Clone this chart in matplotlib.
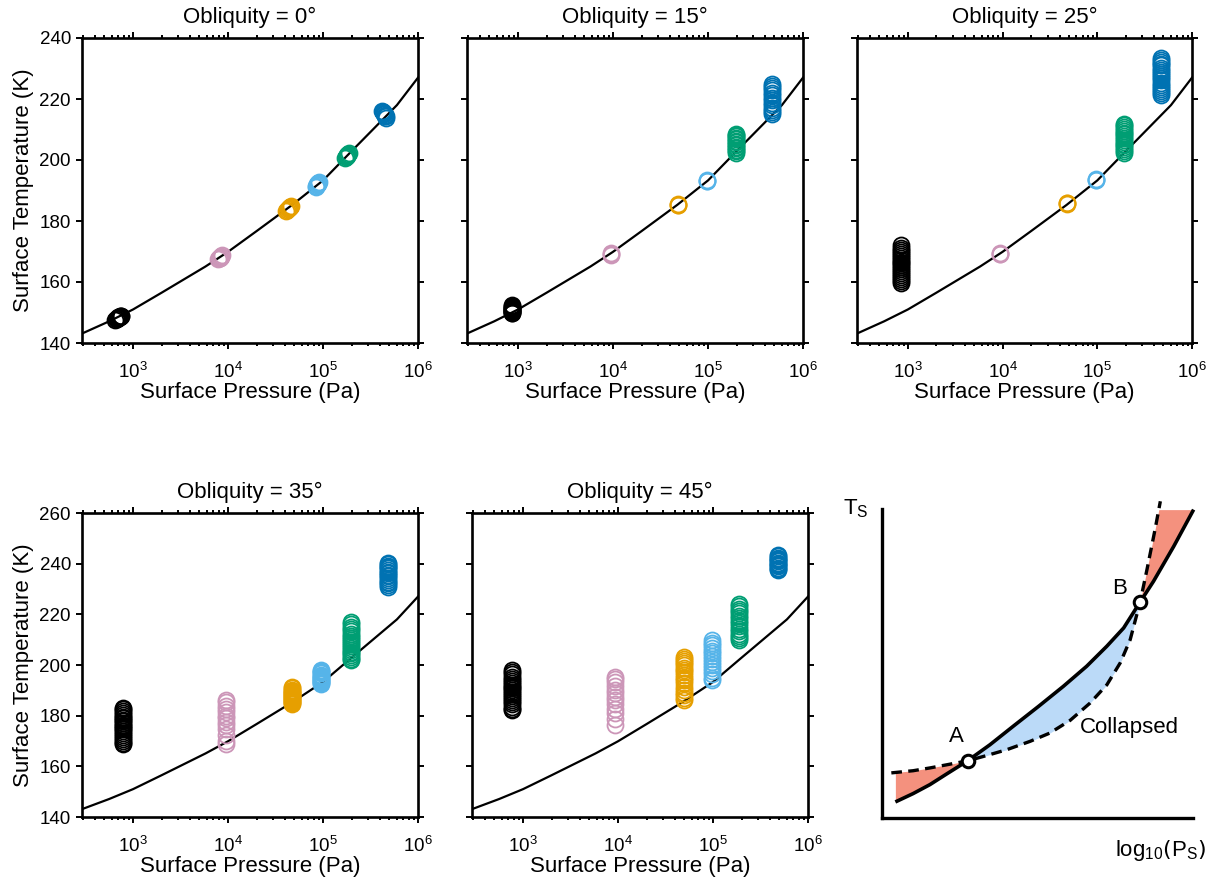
import numpy as np
import matplotlib
matplotlib.use('Agg')
import matplotlib.pyplot as plt

plt.rcParams['font.family'] = ['Liberation Sans', 'DejaVu Sans']
plt.rcParams['mathtext.default'] = 'regular'

# reference curve (surface pressure in Pa, surface temperature in K)
curve_p = [290, 560, 1000, 2000, 5800, 10000, 20000, 47500, 100000, 190000, 600000, 1000000]
curve_t = [143.1, 147.1, 151.0, 156.5, 165.1, 169.9, 176.7, 185.3, 193.3, 202.2, 218.0, 227.0]

colors = ['#000000', '#CC96B8', '#E69F00', '#56B4E9', '#009E73', '#0072B2']
obliquities = [0, 15, 25, 35, 45]

# obliquity 0: clusters spread a little in both P and T
obl0_p = [
    [650, 665, 680, 695, 710, 725, 740, 755, 700, 690, 720],
    [7900, 8050, 8200, 8350, 8500, 8650, 8300, 8150],
    [41000, 42000, 43000, 44000, 45000, 46000, 43500, 44500],
    [83500, 85000, 86500, 88000, 89500, 91000, 87000, 88500],
    [171000, 174000, 177000, 180000, 183000, 186000, 178000, 181000],
    [415000, 425000, 435000, 445000, 455000, 465000, 440000, 450000, 430000],
]
obl0_t = [
    [147.7, 147.9, 148.0, 148.2, 148.4, 148.6, 148.8, 149.0, 148.5, 148.1, 148.9],
    [167.6, 167.8, 168.0, 168.2, 168.5, 168.7, 168.3, 167.9],
    [183.4, 183.7, 184.0, 184.3, 184.7, 185.0, 184.2, 184.5],
    [191.3, 191.6, 191.9, 192.2, 192.5, 192.8, 192.0, 192.4],
    [200.5, 200.9, 201.3, 201.7, 202.1, 202.4, 201.2, 201.6],
    [216.0, 215.6, 215.2, 214.8, 214.3, 213.9, 215.4, 214.5, 215.8],
]

# obliquity 15
obl15_p = [870, 9600, 48700, 98600, 195000, 476000]
obl15_t = [
    [149.8, 150.0, 150.2, 150.4, 150.6, 150.8, 151.0, 151.3, 151.6, 151.9, 152.2, 152.5],
    [169.0, 169.2, 169.4],
    [185.1, 185.3, 185.5],
    [193.0, 193.2, 193.4],
    [202.4, 202.8, 203.3, 203.8, 204.3, 204.8, 205.3, 205.8, 206.3, 206.8, 207.3, 207.8, 208.1, 208.4],
    [215.0, 215.7, 216.4, 217.2, 218.0, 218.8, 219.6, 220.4, 221.2, 222.0, 222.8, 223.5, 224.2, 224.9],
]

# obliquity 25
obl25_p = [850, 9300, 47500, 96000, 190000, 475000]
obl25_t = [
    [159.8, 160.4, 161.0, 161.7, 162.3, 163.0, 163.6, 164.3, 164.9, 165.5, 166.1, 166.7, 167.3,
     167.9, 168.5, 169.1, 169.8, 170.5, 171.3, 172.1],
    [169.1, 169.3, 169.5],
    [185.6, 185.8, 186.0],
    [193.4, 193.6, 193.8],
    [202.3, 202.9, 203.5, 204.2, 204.8, 205.4, 206.0, 206.6, 207.2, 207.8, 208.4, 209.0, 209.6,
     210.2, 210.8, 211.4, 211.9],
    [221.2, 221.9, 222.6, 223.3, 224.0, 224.7, 225.4, 226.1, 226.8, 227.5, 228.2, 228.9, 229.6,
     230.3, 231.0, 231.6, 232.2, 232.8, 233.3],
]

# obliquity 35
obl35_p = [780, 9450, 47400, 95000, 195000, 485000]
obl35_t = [
    [168.7, 169.3, 170.0, 170.8, 171.6, 172.4, 173.2, 174.0, 174.7, 175.3, 175.9, 176.5, 177.1,
     177.7, 178.3, 178.9, 179.6, 180.3, 181.0, 181.8, 182.6, 183.2],
    [168.9, 170.1, 172.5, 174.8, 176.2, 177.6, 178.9, 180.0, 181.3, 182.6, 184.0, 185.2, 186.0],
    [184.7, 185.1, 185.5, 185.9, 186.3, 186.7, 187.1, 187.5, 187.9, 188.3, 188.7, 189.1, 189.5,
     189.9, 190.3, 190.8, 191.3],
    [192.6, 193.0, 193.4, 193.8, 194.2, 194.6, 195.0, 195.4, 195.8, 196.2, 196.7, 197.2, 197.7, 198.2],
    [201.8, 202.5, 203.2, 203.9, 204.6, 205.3, 206.0, 206.8, 207.6, 208.4, 209.2, 210.0, 210.8,
     211.6, 212.4, 213.3, 214.2, 215.1, 216.1, 217.0],
    [230.8, 231.5, 232.2, 232.9, 233.6, 234.3, 235.0, 235.7, 236.3, 236.9, 237.5, 238.1, 238.7,
     239.2, 239.7, 240.2],
]

# obliquity 45
obl45_p = [765, 9400, 49000, 98500, 190000, 487000]
obl45_t = [
    [182.1, 182.8, 183.6, 184.5, 185.4, 186.3, 187.1, 187.9, 188.7, 189.4, 190.1, 190.8, 191.5,
     192.2, 192.9, 193.7, 194.5, 195.4, 196.3, 197.1, 197.9],
    [176.2, 178.5, 180.9, 182.8, 184.5, 186.0, 187.4, 188.8, 190.2, 191.7, 193.2, 194.4, 195.3],
    [186.1, 187.0, 188.0, 189.1, 190.3, 191.5, 192.7, 193.9, 195.0, 196.1, 197.1, 198.1, 199.0,
     199.9, 200.8, 201.6, 202.4, 203.2],
    [193.9, 195.0, 196.3, 197.6, 198.9, 200.1, 201.3, 202.4, 203.5, 204.6, 205.7, 206.7, 207.7,
     208.7, 209.7],
    [209.7, 210.5, 211.4, 212.4, 213.4, 214.4, 215.4, 216.4, 217.4, 218.4, 219.4, 220.4, 221.4,
     222.3, 223.3, 224.2],
    [237.4, 237.9, 238.4, 238.9, 239.4, 239.9, 240.4, 240.9, 241.4, 241.9, 242.4, 242.9, 243.3],
]

# schematic curves (normalised axes units)
solid_x = [0.043, 0.100, 0.154, 0.207, 0.275, 0.347, 0.422, 0.503, 0.583, 0.658, 0.723, 0.777, 0.830, 0.873, 0.938, 1.002]
solid_y = [0.052, 0.079, 0.108, 0.142, 0.185, 0.237, 0.297, 0.361, 0.426, 0.491, 0.556, 0.615, 0.699, 0.766, 0.879, 0.998]
dash_x = [0.030, 0.100, 0.154, 0.207, 0.275, 0.336, 0.401, 0.476, 0.540, 0.605, 0.669, 0.723, 0.766, 0.798, 0.830, 0.852, 0.879, 0.895]
dash_y = [0.146, 0.153, 0.162, 0.172, 0.185, 0.202, 0.221, 0.248, 0.275, 0.316, 0.372, 0.431, 0.502, 0.577, 0.699, 0.804, 0.939, 1.025]
point_a = (0.275, 0.185)
point_b = (0.830, 0.699)

fig = plt.figure(figsize=(12.25, 8.83), dpi=100)

# axes positions in pixels: left, right, top, bottom
boxes = [
    (82, 418, 38, 343),
    (467, 803, 38, 343),
    (857, 1192, 38, 343),
    (82, 418, 513, 817),
    (472, 808, 513, 817),
]
W, H = 1225, 883

scatter_data = []
scatter_data.append([(obl0_p[i], obl0_t[i]) for i in range(6)])
for plist, tlist in [(obl15_p, obl15_t), (obl25_p, obl25_t), (obl35_p, obl35_t), (obl45_p, obl45_t)]:
    scatter_data.append([([plist[i]] * len(tlist[i]), tlist[i]) for i in range(6)])

for k, (l, r, t, b) in enumerate(boxes):
    ax = fig.add_axes([l / W, (H - b) / H, (r - l) / W, (b - t) / H])
    ax.plot(curve_p, curve_t, color='black', lw=1.6, zorder=2)
    for i, (pp, tt) in enumerate(scatter_data[k]):
        ax.plot(pp, tt, 'o', ms=11.5, mfc='none', mec=colors[i], mew=1.3, zorder=3)
    ax.set_xscale('log')
    ax.set_xlim(290, 1e6)
    if k < 3:
        ax.set_ylim(140, 240)
        ax.set_yticks(np.arange(140, 241, 20))
    else:
        ax.set_ylim(140, 260)
        ax.set_yticks(np.arange(140, 261, 20))
    ax.set_xticks([1e3, 1e4, 1e5, 1e6])
    ax.tick_params(which='both', direction='out', top=True, right=True, labelsize=13.5, width=1.4)
    ax.tick_params(which='major', length=4.5)
    ax.tick_params(which='minor', length=2.5)
    ax.tick_params(axis='x', which='major', pad=9)
    for s in ax.spines.values():
        s.set_linewidth(1.9)
    ax.set_title('Obliquity = %d°' % obliquities[k], fontsize=16, pad=11)
    ax.set_xlabel('Surface Pressure (Pa)', fontsize=16, labelpad=0)
    if k in (0, 3):
        ax.set_ylabel('Surface Temperature (K)', fontsize=16, labelpad=4)
    else:
        ax.set_yticklabels([])

# schematic panel
ax = fig.add_axes([882 / W, (H - 818) / H, 311 / W, 309 / H])
ax.set_xlim(0, 1)
ax.set_ylim(0, 1)
for s in ['top', 'right']:
    ax.spines[s].set_visible(False)
for s in ['left', 'bottom']:
    ax.spines[s].set_linewidth(2.4)
ax.set_xticks([])
ax.set_yticks([])

xa = np.linspace(solid_x[0], point_a[0], 60)
ax.fill_between(xa, np.interp(xa, solid_x, solid_y), np.interp(xa, dash_x, dash_y),
                color='#F4917E', lw=0)
xab = np.linspace(point_a[0], point_b[0], 120)
ax.fill_between(xab, np.interp(xab, solid_x, solid_y), np.interp(xab, dash_x, dash_y),
                color='#BBDAF8', lw=0)
yb = np.linspace(point_b[1], solid_y[-1], 60)
ax.fill_betweenx(yb, np.interp(yb, dash_y, dash_x), np.interp(yb, solid_y, solid_x),
                 color='#F4917E', lw=0)

ax.plot(solid_x, solid_y, color='black', lw=2.6, clip_on=False, solid_capstyle='butt')
ax.plot(dash_x, dash_y, color='black', lw=2.4, dashes=(3.2, 1.9), clip_on=False)
ax.plot([point_a[0], point_b[0]], [point_a[1], point_b[1]], 'o', ms=9, mfc='white',
        mec='black', mew=2.2, clip_on=False, zorder=5)

ax.text(0.24, 0.264, 'A', fontsize=16, ha='center', va='center')
ax.text(0.764, 0.742, 'B', fontsize=16, ha='center', va='center')
ax.text(0.795, 0.294, 'Collapsed', fontsize=16, ha='center', va='center')
ax.text(-0.085, 1.0, r'$\mathregular{T_S}$', fontsize=16, ha='center', va='center')
ax.text(0.895, -0.105, r'$\mathregular{log_{10}\left(P_S\right)}$', fontsize=16,
        ha='center', va='center')

fig.savefig('out.png', dpi=100)
